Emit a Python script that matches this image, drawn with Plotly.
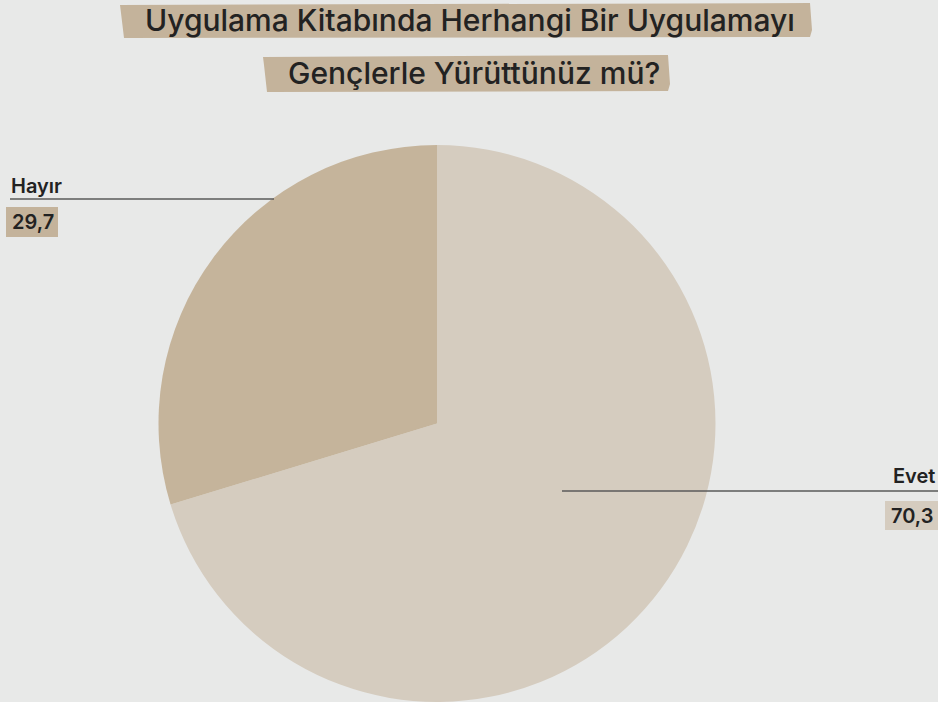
import plotly.graph_objects as go

labels = ["Evet", "Hayır"]
values = [70.3, 29.7]
colors = ["#d5ccbf", "#c5b49b"]
title_lines = ["Uygulama Kitabında Herhangi Bir Uygulamayı", "Gençlerle Yürüttünüz mü?"]

W, H = 938, 702
BG = "#e8e9e8"
FONT = "Inter"

def fmt(v):
    return f"{v:.1f}".replace(".", ",")

fig = go.Figure(go.Pie(
    labels=labels, values=values, sort=False, direction="clockwise", rotation=0,
    marker=dict(colors=colors, line=dict(width=0)),
    textinfo="none", hoverinfo="label+value", showlegend=False,
    domain=dict(x=[158 / W, 716 / W], y=[0, 1 - 145 / H]),
))

def px(x):
    return x / W

def py(y):
    return 1 - y / H

shapes = []
def brush(x0, y0, x1, y1, color, skew=4):
    path = (f"M {px(x0)},{py(y0 + 2)} L {px(x1 - 2)},{py(y0)} L {px(x1)},{py(y1 - 8)} "
            f"L {px(x1 - 2)},{py(y1 - 1)} L {px(x0 + skew)},{py(y1)} L {px(x0 + 1)},{py(y0 + 10)} Z")
    return dict(type="path", xref="paper", yref="paper", path=path,
                fillcolor=color, line=dict(width=0), layer="below")

shapes.append(brush(120, 3, 812, 38, "#c4b39b"))
shapes.append(brush(263, 55, 670, 92, "#c4b39b"))
shapes.append(dict(type="rect", xref="paper", yref="paper", x0=px(6), x1=px(58), y0=py(237), y1=py(207),
                   fillcolor="#c4b39b", line=dict(width=0), layer="below"))
shapes.append(dict(type="rect", xref="paper", yref="paper", x0=px(885), x1=px(938), y0=py(530), y1=py(501),
                   fillcolor="#d5ccbf", line=dict(width=0), layer="above"))
shapes.append(dict(type="line", xref="paper", yref="paper", x0=px(10), x1=px(274), y0=py(199), y1=py(199),
                   line=dict(color="#5a5a5a", width=1.5), layer="above"))
shapes.append(dict(type="line", xref="paper", yref="paper", x0=px(562), x1=px(938), y0=py(491), y1=py(491),
                   line=dict(color="#5a5a5a", width=1.5), layer="above"))

def txt(s, x, y, size, xanchor="center", weight=600):
    return dict(text=s, x=px(x), y=py(y), xref="paper", yref="paper", xanchor=xanchor, yanchor="middle",
                showarrow=False, font=dict(family=FONT, size=size, color="#222222", weight=weight))

ann = [
    txt(title_lines[0], 470, 20, 30, weight=500),
    txt(title_lines[1], 474, 73, 30, weight=500),
    txt(labels[1], 9, 186, 20, "left"),
    txt(fmt(values[1]), 10, 222, 20, "left"),
    txt(labels[0], 937, 476, 20, "right"),
    txt(fmt(values[0]), 935, 516, 20, "right"),
]

fig.update_layout(
    width=W, height=H, margin=dict(l=0, r=0, t=0, b=0),
    paper_bgcolor=BG, plot_bgcolor=BG,
    shapes=shapes, annotations=ann,
)
fig.write_html("out.html", config={"displayModeBar": False},
               post_script="document.body.style.margin='0';document.body.style.overflow='hidden';")
